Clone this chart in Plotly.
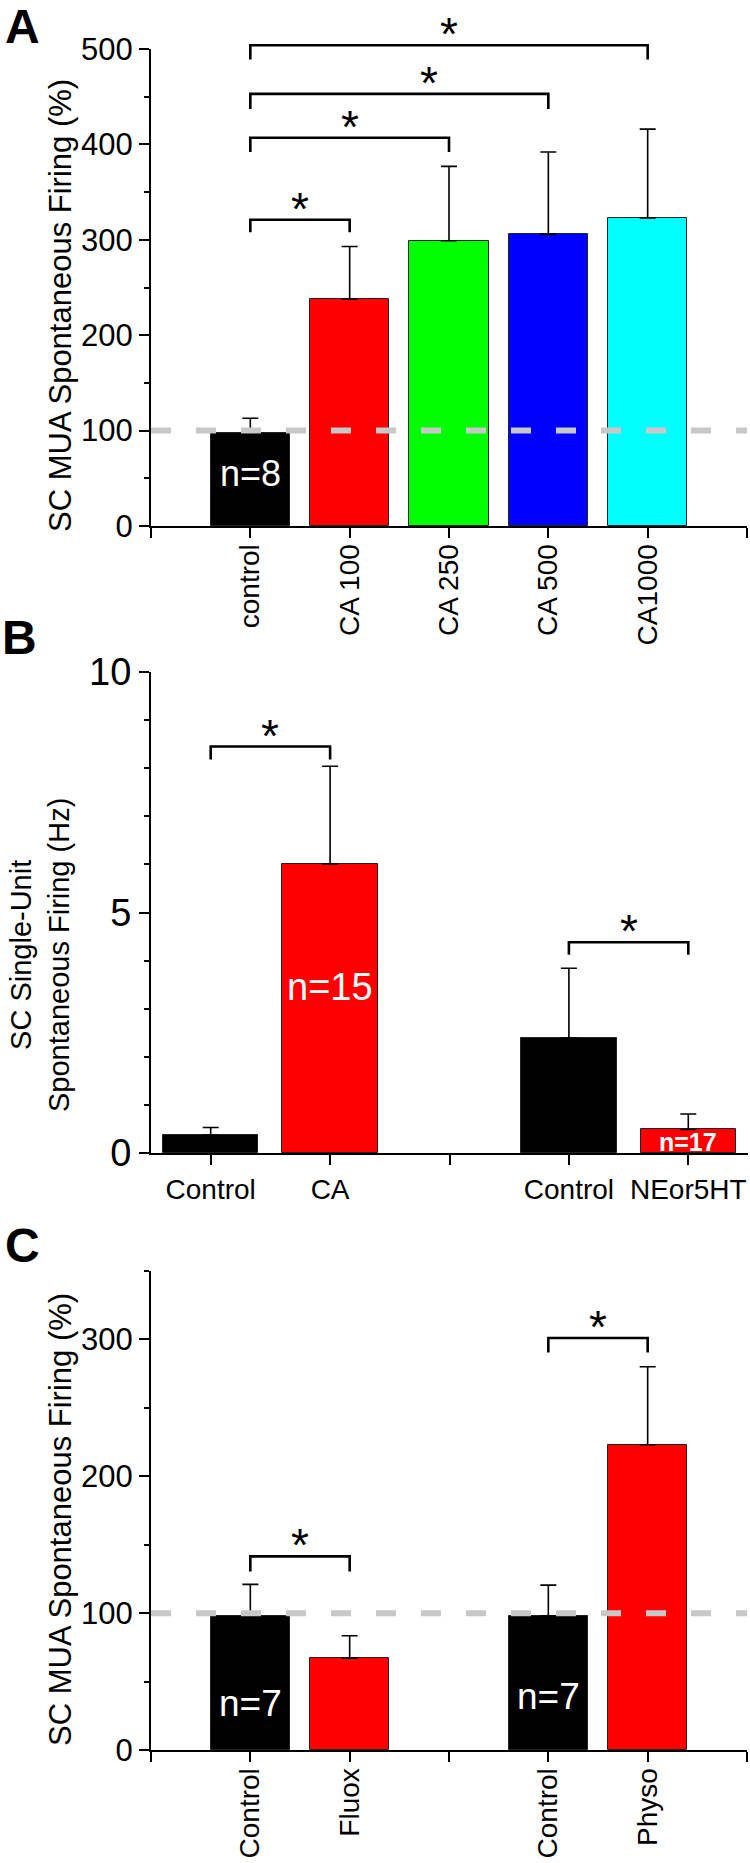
import plotly.graph_objects as go

# ---- panel A data ----
a_labels = ["control", "CA 100", "CA 250", "CA 500", "CA1000"]
a_mean = [98, 238, 299, 306, 323]
a_err = [15, 55, 78, 86, 93]
a_colors = ["#000000", "#ff0000", "#00ff00", "#0000ff", "#00ffff"]
a_pairs = [(1, 2), (1, 3), (1, 4), (1, 5)]
a_bracket_top = [321, 407, 453, 504]
a_bracket_leg = [308, 392, 437, 489]
a_star_x = [1.5, 2.0, 2.8, 3.0]

# ---- panel B data ----
b_labels = ["Control", "CA", "Control", "NEor5HT"]
b_pos = [1, 2, 4, 5]
b_mean = [0.37, 6.01, 2.39, 0.49]
b_err = [0.16, 2.03, 1.45, 0.32]
b_colors = ["#000000", "#ff0000", "#000000", "#ff0000"]
b_pairs = [(1, 2), (4, 5)]
b_bracket_top = [8.45, 4.38]
b_bracket_leg = [8.18, 4.12]

# ---- panel C data ----
c_labels = ["Control", "Fluox", "Control", "Physo"]
c_pos = [1, 2, 4, 5]
c_mean = [98, 67, 98, 223]
c_err = [23, 16.5, 22.5, 57]
c_colors = ["#000000", "#ff0000", "#000000", "#ff0000"]
c_pairs = [(1, 2), (4, 5)]
c_bracket_top = [141.5, 301]
c_bracket_leg = [130.5, 290.5]

FONT = "Liberation Sans, Arial, sans-serif"
H = 1863.0
W = 750.0


def py(px):
    return 1 - px / H


fig = go.Figure()


def bars(x, mean, err, colors, xa, ya):
    fig.add_trace(go.Bar(
        x=x, y=mean, width=0.8,
        marker=dict(color=colors, line=dict(color="#222222", width=1)),
        error_y=dict(type="data", symmetric=False, array=err,
                     arrayminus=[0] * len(err), color="black",
                     thickness=1.6, width=8),
        xaxis=xa, yaxis=ya, showlegend=False, hoverinfo="skip"))


def brackets(pairs, tops, legs, xa, ya):
    for (x1, x2), top, leg in zip(pairs, tops, legs):
        fig.add_trace(go.Scatter(
            x=[x1, x1, x2, x2], y=[leg, top, top, leg], mode="lines",
            line=dict(color="black", width=2.6),
            xaxis=xa, yaxis=ya, showlegend=False, hoverinfo="skip"))


def stars(xs, tops, xa, ya):
    for x, top in zip(xs, tops):
        fig.add_annotation(x=x, y=top, xref=xa, yref=ya, text="*",
                           showarrow=False, yanchor="bottom", yshift=-17,
                           font=dict(family=FONT, size=46, color="black"))


# panel A
a_x = list(range(1, len(a_labels) + 1))
bars(a_x, a_mean, a_err, a_colors, "x", "y")
brackets(a_pairs, a_bracket_top, a_bracket_leg, "x4", "y4")
stars(a_star_x, a_bracket_top, "x4", "y4")

# panel B
bars(b_pos, b_mean, b_err, b_colors, "x2", "y2")
brackets(b_pairs, b_bracket_top, b_bracket_leg, "x2", "y2")
stars([(p[0] + p[1]) / 2 for p in b_pairs], b_bracket_top, "x2", "y2")

# panel C
bars(c_pos, c_mean, c_err, c_colors, "x3", "y3")
brackets(c_pairs, c_bracket_top, c_bracket_leg, "x3", "y3")
stars([(p[0] + p[1]) / 2 for p in c_pairs], c_bracket_top, "x3", "y3")

# n labels
fig.add_annotation(x=1, y=55, xref="x", yref="y", text="n=8", showarrow=False,
                   font=dict(family=FONT, size=36, color="white"))
fig.add_annotation(x=2, y=3.46, xref="x2", yref="y2", text="n=15", showarrow=False,
                   font=dict(family=FONT, size=38, color="white"))
fig.add_annotation(x=5, y=0.22, xref="x2", yref="y2", text="<b>n=17</b>", showarrow=False,
                   font=dict(family=FONT, size=25, color="white"))
fig.add_annotation(x=1, y=34, xref="x3", yref="y3", text="n=7", showarrow=False,
                   font=dict(family=FONT, size=37, color="white"))
fig.add_annotation(x=4, y=39, xref="x3", yref="y3", text="n=7", showarrow=False,
                   font=dict(family=FONT, size=37, color="white"))

# dashed reference lines at 100 %
for xr, yr in [("x", "y"), ("x3", "y3")]:
    fig.add_shape(type="line", xref=xr, yref=yr, x0=0, x1=6, y0=100, y1=100,
                  line=dict(color="#c8c8c8", width=6, dash="20px,25px"), layer="above")

axis_common = dict(showline=True, linecolor="black", linewidth=2, ticks="outside",
                   ticklen=10, tickwidth=2, tickcolor="black", showgrid=False,
                   zeroline=False, mirror=False, automargin=False,
                   tickfont=dict(family=FONT, size=31, color="black"))
minor_common = dict(ticklen=5, tickwidth=2, ticks="outside", tickcolor="black", showgrid=False)

xdomA = [151 / W, 747 / W]
xdomB = [151 / W, 748 / W]

a0, a500 = 526, 49
scaleA = (a0 - a500) / 500.0
helper_top = 540

fig.update_layout(
    template="none",
    width=750, height=1863, margin=dict(l=0, r=0, t=0, b=0),
    paper_bgcolor="white", plot_bgcolor="rgba(0,0,0,0)", showlegend=False, bargap=0,
    xaxis=dict(axis_common, domain=xdomA, range=[0, 6], anchor="y",
               tickvals=[0] + a_x + [6], ticktext=[""] + a_labels + [""], tickangle=-90,
               ticklabelstandoff=-5,
               tickfont=dict(family=FONT, size=28, color="black")),
    yaxis=dict(axis_common, domain=[py(a0), py(a500)], range=[0, 500], anchor="x",
               tickvals=[0, 100, 200, 300, 400, 500], minor=dict(minor_common, dtick=50)),
    xaxis2=dict(axis_common, domain=xdomB, range=[0.5, 5.5], anchor="y2",
                tickvals=[1, 2, 3, 4, 5],
                ticktext=[b_labels[0], b_labels[1], "", b_labels[2], b_labels[3]],
                tickfont=dict(family=FONT, size=28, color="black")),
    yaxis2=dict(axis_common, domain=[py(1153), py(672)], range=[0, 10], anchor="x2",
                tickvals=[0, 5, 10], tickfont=dict(family=FONT, size=38, color="black"),
                minor=dict(minor_common, dtick=1)),
    xaxis3=dict(axis_common, domain=xdomA, range=[0, 6], anchor="y3",
                tickvals=[0, 1, 2, 3, 4, 5, 6],
                ticktext=["", c_labels[0], c_labels[1], "", c_labels[2], c_labels[3], ""],
                tickangle=-90, ticklabelstandoff=-5,
                tickfont=dict(family=FONT, size=28, color="black")),
    yaxis3=dict(axis_common, domain=[py(1750), py(1271)], range=[0, 350], anchor="x3",
                tickvals=[0, 100, 200, 300], minor=dict(minor_common, dtick=50)),
    # invisible helper axes for panel A brackets (same scale, taller)
    xaxis4=dict(domain=xdomA, range=[0, 6], visible=False, anchor="y4", automargin=False),
    yaxis4=dict(domain=[py(a0), py(a0 - scaleA * helper_top)], range=[0, helper_top],
                visible=False, anchor="x4", automargin=False),
)

# axis titles
fig.add_annotation(x=60 / W, y=py(306), xref="paper", yref="paper", textangle=-90,
                   xanchor="center", yanchor="middle",
                   text="SC MUA Spontaneous Firing (%)", showarrow=False,
                   font=dict(family=FONT, size=31, color="black"))
fig.add_annotation(x=40 / W, y=py(955), xref="paper", yref="paper", textangle=-90,
                   xanchor="center", yanchor="middle",
                   text="SC Single-Unit<br>Spontaneous Firing (Hz)", showarrow=False,
                   font=dict(family=FONT, size=29, color="black"))
fig.add_annotation(x=60 / W, y=py(1520), xref="paper", yref="paper", textangle=-90,
                   xanchor="center", yanchor="middle",
                   text="SC MUA Spontaneous Firing (%)", showarrow=False,
                   font=dict(family=FONT, size=31, color="black"))

# panel letters
for letter, xc, yc in [("A", 22, 27), ("B", 19, 638), ("C", 22, 1245)]:
    fig.add_annotation(x=xc / W, y=py(yc), xref="paper", yref="paper",
                       xanchor="center", yanchor="middle",
                       text="<b>" + letter + "</b>", showarrow=False,
                       font=dict(family=FONT, size=48, color="black"))

fig.write_html("out.html", config={"displayModeBar": False},
               post_script="document.body.style.margin='0';")
